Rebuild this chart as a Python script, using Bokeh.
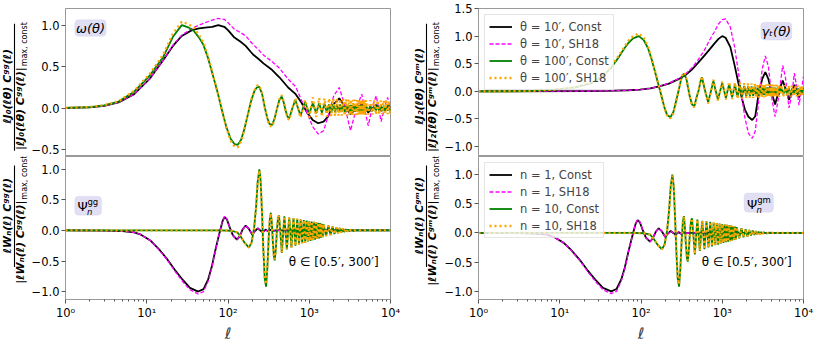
import math
from bokeh.plotting import figure
from bokeh.models import Range1d, FixedTicker, Legend, LegendItem, Label, BoxAnnotation
from bokeh.layouts import row, column
from bokeh.embed import file_html
from bokeh.resources import INLINE
from bokeh.core.properties import value

# ---------------- data ----------------
# omega(theta), theta = 10'
ell_w10 = [1, 2, 3, 4.5, 7, 11, 16, 21, 27, 36, 44, 52, 64, 76, 90, 100, 120, 143, 165, 190,
           207, 240, 273, 350, 432, 550, 681, 800, 937, 1100, 1290, 1500, 1700, 2000, 2340,
           2700, 3220, 3800, 4430, 4900, 5320, 6000, 6680, 7200, 7670, 8400, 9200, 10000]
w10_const = [0.005, 0.012, 0.03, 0.07, 0.17, 0.36, 0.58, 0.75, 0.87, 0.94, 0.96, 0.97, 0.98, 1.0, 0.98,
             0.94, 0.85, 0.80, 0.75, 0.68, 0.64, 0.59, 0.54, 0.46, 0.37, 0.25, 0.17, 0.07, -0.05, -0.14,
             -0.18, -0.16, -0.10, 0.05, 0.12, 0.03, -0.07, 0.0, 0.05, 0.0, -0.05, 0.0, 0.04, 0.0, -0.03,
             0.0, 0.03, 0.01]
w10_sh18 = [0.005, 0.012, 0.03, 0.07, 0.17, 0.36, 0.58, 0.76, 0.88, 0.96, 1.0, 1.03, 1.06, 1.08, 1.07,
            1.03, 0.95, 0.91, 0.87, 0.80, 0.76, 0.70, 0.64, 0.56, 0.48, 0.35, 0.26, 0.10, -0.05, -0.22,
            -0.31, -0.27, -0.10, 0.15, 0.25, 0.05, -0.27, 0.0, 0.17, -0.05, -0.21, 0.02, 0.15, -0.02, -0.16,
            0.0, 0.13, 0.0]

# shared positions of the dense oscillation band (theta = 100')
band_ell = [1000, 1108, 1216, 1324, 1432, 1540, 1648, 1756, 1864, 1972, 2080, 2188, 2296, 2404, 2512,
            2620, 2728, 2836, 2944, 3052, 3160, 3268, 3376, 3484, 3592, 3700, 3808, 3916, 4024, 4132,
            4240, 4348, 4456, 4564, 4672, 4780, 4888, 4996, 5320, 5644, 5968, 6292, 6616, 6940, 7264,
            7588, 7912, 8236, 8560, 8884, 9208, 9532, 9856, 10000]

# omega(theta), theta = 100'
ell_w100_head = [1, 2, 3, 4.5, 7, 11, 16, 21, 27, 33, 38, 44, 50, 57, 65, 75, 83, 95, 108, 120,
                 132, 145, 160, 175, 190, 210, 226, 241, 262, 285, 305, 325, 350, 375, 400, 428, 458,
                 485, 512, 540, 566, 620, 674, 728, 782, 836, 890, 945]
w100_const_head = [0.005, 0.015, 0.035, 0.08, 0.20, 0.40, 0.62, 0.86, 1.0, 0.97, 0.93, 0.85, 0.76, 0.60,
                   0.40, 0.18, 0.0, -0.22, -0.37, -0.43, -0.44, -0.38, -0.24, -0.08, 0.07, 0.20, 0.25,
                   0.26, 0.18, 0.0, -0.12, -0.19, -0.20, -0.12, -0.01, 0.10, 0.14, 0.07, -0.03, -0.10,
                   -0.12, 0.0, 0.10, 0.0, -0.09, 0.0, 0.08, 0.0]
w100_sh18_head = [0.005, 0.016, 0.037, 0.085, 0.21, 0.42, 0.65, 0.90, 1.04, 1.01, 0.97, 0.88, 0.79, 0.62,
                  0.41, 0.18, 0.0, -0.23, -0.39, -0.46, -0.47, -0.40, -0.25, -0.08, 0.08, 0.21, 0.27,
                  0.28, 0.19, 0.0, -0.13, -0.21, -0.22, -0.13, -0.01, 0.11, 0.16, 0.08, -0.03, -0.12,
                  -0.14, 0.0, 0.12, 0.0, -0.11, 0.0, 0.10, 0.0]
w100_const_band = [-0.07, 0.065, -0.06, 0.06, -0.055, 0.055, -0.05, 0.05, -0.05, 0.048,
                   -0.047, 0.046, -0.045, 0.045, -0.044, 0.044, -0.043, 0.043, -0.042, 0.042,
                   -0.041, 0.041, -0.04, 0.04, -0.04, 0.04, -0.039, 0.039, -0.039, 0.038,
                   -0.038, 0.038, -0.037, 0.037, -0.037, 0.036, -0.036, 0.036, -0.035, 0.035,
                   -0.035, 0.034, -0.034, 0.034, -0.033, 0.033, -0.033, 0.032, -0.032, 0.032,
                   -0.031, 0.031, -0.03, 0.0]
w100_sh18_band = [-0.11, 0.13, -0.105, 0.125, -0.10, 0.12, -0.10, 0.12, -0.095, 0.115,
                  -0.095, 0.115, -0.09, 0.11, -0.09, 0.11, -0.088, 0.108, -0.086, 0.106,
                  -0.085, 0.105, -0.084, 0.104, -0.083, 0.103, -0.082, 0.102, -0.081, 0.101,
                  -0.08, 0.10, -0.08, 0.10, -0.079, 0.099, -0.078, 0.098, -0.077, 0.097,
                  -0.076, 0.096, -0.075, 0.095, -0.074, 0.094, -0.073, 0.093, -0.072, 0.092,
                  -0.071, 0.091, -0.07, 0.0]

# gamma_t(theta), theta = 10'
ell_g10 = [1, 20, 38.7, 70, 97, 130, 168, 220, 290, 350, 420, 500, 606, 700, 794, 900, 1000, 1100,
           1259, 1420, 1580, 1740, 1900, 2100, 2340, 2550, 2820, 3100, 3390, 3700, 4100, 4470, 4950,
           5550, 6000, 6630, 7200, 7710, 8300, 8790, 9400, 10000]
g10_const = [0.0, 0.005, 0.01, 0.02, 0.03, 0.055, 0.09, 0.14, 0.22, 0.29, 0.39, 0.51, 0.65, 0.76, 0.86,
             0.95, 1.0, 0.97, 0.80, 0.47, 0.15, -0.12, -0.33, -0.46, -0.52, -0.45, -0.02, 0.22, 0.35,
             0.22, -0.05, -0.24, 0.0, 0.195, 0.05, -0.15, 0.0, 0.12, 0.0, -0.11, 0.0, 0.07]
g10_sh18 = [0.0, 0.005, 0.01, 0.02, 0.03, 0.055, 0.09, 0.145, 0.23, 0.31, 0.42, 0.56, 0.75, 0.93, 1.07,
            1.22, 1.30, 1.31, 1.16, 0.80, 0.35, -0.10, -0.48, -0.76, -0.85, -0.72, -0.15, 0.40, 0.64,
            0.45, -0.15, -0.46, -0.10, 0.47, 0.25, -0.30, -0.05, 0.33, 0.05, -0.25, 0.0, 0.27]

# gamma_t(theta), theta = 100'
ell_g100_head = [1, 4, 8.5, 15.5, 24.6, 33.8, 43, 53.4, 62, 70.3, 80, 94, 108, 122, 135, 146, 160, 176,
                 195, 210, 230, 250, 270, 289, 310, 330, 343, 365, 385, 399, 425, 454, 480, 509, 540,
                 563, 617, 671, 725, 778, 832, 886, 940]
g100_const_head = [0.0, 0.003, 0.03, 0.07, 0.15, 0.27, 0.43, 0.62, 0.77, 0.88, 0.96, 1.0, 0.93, 0.78,
                   0.58, 0.40, 0.18, -0.05, -0.30, -0.43, -0.47, -0.38, -0.18, 0.0, 0.2, 0.31, 0.32,
                   0.2, 0.02, -0.1, -0.24, -0.27, -0.12, 0.0, 0.18, 0.25, 0.0, -0.2, 0.0, 0.19, 0.0,
                   -0.15, 0.0]
g100_sh18_head = [0.0, 0.003, 0.03, 0.075, 0.16, 0.28, 0.45, 0.65, 0.80, 0.92, 1.0, 1.05, 0.97, 0.81,
                  0.60, 0.42, 0.19, -0.05, -0.31, -0.45, -0.49, -0.40, -0.19, 0.0, 0.21, 0.33, 0.34,
                  0.21, 0.02, -0.11, -0.26, -0.29, -0.13, 0.0, 0.2, 0.27, 0.0, -0.22, 0.0, 0.21, 0.0,
                  -0.17, 0.0]
g100_const_band = [0.15, -0.12, 0.13, -0.11, 0.12, -0.10, 0.11, -0.095, 0.10, -0.09,
                   0.095, -0.085, 0.09, -0.08, 0.085, -0.078, 0.082, -0.075, 0.08, -0.072,
                   0.078, -0.07, 0.076, -0.068, 0.074, -0.066, 0.072, -0.064, 0.07, -0.062,
                   0.068, -0.06, 0.066, -0.058, 0.064, -0.056, 0.062, -0.055, 0.06, -0.054,
                   0.058, -0.053, 0.057, -0.052, 0.056, -0.051, 0.055, -0.05, 0.054, -0.05,
                   0.053, -0.049, 0.052, 0.0]
g100_sh18_band = [0.18, -0.15, 0.17, -0.14, 0.16, -0.135, 0.155, -0.13, 0.15, -0.125,
                  0.145, -0.12, 0.14, -0.118, 0.138, -0.116, 0.136, -0.114, 0.134, -0.112,
                  0.132, -0.11, 0.13, -0.108, 0.128, -0.106, 0.126, -0.104, 0.124, -0.102,
                  0.122, -0.10, 0.12, -0.099, 0.118, -0.098, 0.116, -0.097, 0.114, -0.096,
                  0.112, -0.095, 0.11, -0.094, 0.108, -0.093, 0.106, -0.092, 0.104, -0.091,
                  0.102, -0.09, 0.10, 0.0]

# Psi_n filters, n = 1
ell_n1 = [1, 3, 5, 7, 8.5, 11.2, 14, 17.6, 22, 27.8, 34, 43, 50, 57, 63, 70, 76, 80, 86, 91,
          97, 105, 115, 129, 140, 152, 165, 180, 199, 215, 232, 250, 268, 290, 310, 335, 360, 400, 10000]
n1_const = [0.0, -0.002, -0.01, -0.03, -0.07, -0.17, -0.30, -0.46, -0.64, -0.81, -0.94, -1.0, -0.96,
            -0.80, -0.60, -0.32, -0.12, 0.0, 0.16, 0.22, 0.18, 0.05, -0.08, -0.15, -0.09, 0.02, 0.08,
            0.03, -0.07, -0.01, 0.035, 0.0, -0.03, 0.015, -0.015, 0.01, -0.005, 0.0, 0.0]
n1_sh18 = [0.0, -0.002, -0.01, -0.03, -0.07, -0.17, -0.31, -0.47, -0.66, -0.84, -0.97, -1.04, -1.0,
           -0.83, -0.62, -0.33, -0.12, 0.0, 0.17, 0.23, 0.19, 0.05, -0.08, -0.15, -0.09, 0.02, 0.08,
           0.03, -0.07, -0.01, 0.035, 0.0, -0.03, 0.015, -0.015, 0.01, -0.005, 0.0, 0.0]

# Psi_n filters, n = 10
ell_n10 = [1, 80, 110, 130, 143, 160, 181, 195, 210, 222,
           232, 243, 252, 262, 272, 283, 294, 305, 316, 327,
           337, 347, 357, 367, 376, 388, 400, 412, 424, 442,
           460, 477, 494, 512, 530, 548, 567, 585, 603, 621,
           640, 658, 676, 694, 712, 730, 748, 766, 784, 802,
           820, 838, 856, 874, 892, 910, 928, 946, 964, 982,
           1000, 1036, 1072, 1108, 1144, 1180, 1216, 1252, 1288, 1324,
           1360, 1396, 1432, 1468, 1504, 1612, 1720, 1828, 1936, 2044,
           2152, 2260, 2368, 2476, 2584, 2692, 2800, 2908, 3016, 3124,
           3232, 3500, 3800, 4200, 10000]
n10_const = [0.0, 0.0, -0.005, -0.03, -0.10, -0.20, -0.28, -0.20, 0.05, 0.40,
             0.80, 1.0, 0.82, 0.30, -0.30, -0.78, -0.92, -0.62, -0.15, 0.18,
             0.29, 0.10, -0.20, -0.42, -0.49, -0.30, 0.0, 0.20, 0.25, -0.05,
             -0.37, -0.05, 0.23, -0.04, -0.31, -0.04, 0.21, -0.03, -0.28, -0.03,
             0.20, -0.03, -0.25, -0.02, 0.19, -0.02, -0.23, -0.02, 0.18, -0.02,
             -0.21, -0.01, 0.17, -0.01, -0.20, -0.01, 0.16, -0.01, -0.18, -0.01,
             0.15, -0.17, 0.145, -0.16, 0.14, -0.15, 0.13, -0.14, 0.125, -0.13,
             0.12, -0.12, 0.11, -0.11, 0.10, -0.09, 0.08, -0.075, 0.065, -0.06,
             0.05, -0.045, 0.04, -0.035, 0.03, -0.025, 0.02, -0.018, 0.015, -0.012,
             0.01, -0.006, 0.004, 0.0, 0.0]
n10_sh18 = [0.0, 0.0, -0.005, -0.03, -0.10, -0.20, -0.28, -0.20, 0.05, 0.39,
            0.79, 0.98, 0.80, 0.29, -0.29, -0.76, -0.88, -0.60, -0.14, 0.18,
            0.28, 0.10, -0.19, -0.41, -0.47, -0.30, 0.0, 0.20, 0.25, -0.05,
            -0.36, -0.05, 0.23, -0.04, -0.30, -0.04, 0.21, -0.03, -0.28, -0.03,
            0.20, -0.03, -0.25, -0.02, 0.19, -0.02, -0.23, -0.02, 0.18, -0.02,
            -0.21, -0.01, 0.17, -0.01, -0.20, -0.01, 0.16, -0.01, -0.18, -0.01,
            0.15, -0.17, 0.145, -0.16, 0.14, -0.15, 0.13, -0.14, 0.125, -0.13,
            0.12, -0.12, 0.11, -0.11, 0.10, -0.09, 0.08, -0.075, 0.065, -0.06,
            0.05, -0.045, 0.04, -0.035, 0.03, -0.025, 0.02, -0.018, 0.015, -0.012,
            0.01, -0.006, 0.004, 0.0, 0.0]

x_tick_vals = [1, 10, 100, 1000, 10000]
x_tick_text = ["10⁰", "10¹", "10²", "10³", "10⁴"]
legend_top = ["θ = 10′, Const", "θ = 10′, SH18", "θ = 100′, Const", "θ = 100′, SH18"]
legend_bottom = ["n = 1, Const", "n = 1, SH18", "n = 10, Const", "n = 10, SH18"]

# ---------------- styling ----------------
FONT = "DejaVu Sans"
FW, FH = 329, 148
TOPB, BOTB = 8, 41
LB, RB = 33, 11
GRAY = "#9a9a9a"
C_BLACK, C_MAG, C_GREEN, C_ORANGE = "#000000", "#ff00ff", "#008000", "#ffa500"
BOX_FILL, BOX_LINE = "#e1dff4", "#cfcce8"


def panel(ylim, yticks, bottom):
    p = figure(width=LB + FW + RB, height=FH + (BOTB if bottom else TOPB),
               x_axis_type="log", x_range=Range1d(1, 1e4), y_range=Range1d(*ylim),
               x_axis_location="below" if bottom else None,
               output_backend="svg", toolbar_location=None,
               min_border_left=LB, min_border_right=RB,
               min_border_top=0 if bottom else TOPB,
               min_border_bottom=BOTB if bottom else 0)
    p.grid.visible = False
    p.outline_line_color = GRAY
    p.outline_line_width = 1
    ya = p.yaxis[0]
    ya.ticker = FixedTicker(ticks=yticks)
    ya.major_label_overrides = {t: f"{t:.1f}".replace("-", "−") for t in yticks}
    ya.axis_line_color = GRAY
    ya.major_tick_line_color = "#555555"
    ya.major_tick_out = 4
    ya.major_tick_in = 0
    ya.minor_tick_line_color = None
    ya.major_label_text_font = FONT
    ya.major_label_text_font_size = "11.5px"
    ya.major_label_text_color = "#000000"
    ya.major_label_standoff = 2
    if bottom:
        xa = p.xaxis[0]
        xa.ticker = FixedTicker(ticks=x_tick_vals,
                                minor_ticks=[m * 10 ** k for k in range(4) for m in range(2, 10)])
        xa.major_label_overrides = dict(zip(x_tick_vals, x_tick_text))
        xa.axis_line_color = GRAY
        xa.major_tick_line_color = "#555555"
        xa.minor_tick_line_color = "#555555"
        xa.major_tick_out = 4
        xa.major_tick_in = 0
        xa.minor_tick_out = 2
        xa.minor_tick_in = 0
        xa.major_label_text_font = FONT
        xa.major_label_text_font_size = "11.5px"
        xa.major_label_text_color = "#000000"
        xa.major_label_standoff = 2
        xa.axis_label = "ℓ"
        xa.axis_label_text_font = FONT
        xa.axis_label_text_font_size = "16px"
        xa.axis_label_text_font_style = "italic"
        xa.axis_label_standoff = 1
    return p


def draw(p, series):
    rs = []
    styles = [dict(line_color=C_BLACK, line_width=1.8),
              dict(line_color=C_MAG, line_width=1.3, line_dash="4 2"),
              dict(line_color=C_GREEN, line_width=1.8),
              dict(line_color=C_ORANGE, line_width=2.3, line_dash="2 3")]
    for (xs, ys), st in zip(series, styles):
        rs.append(p.line(xs, ys, **st))
    return rs


def add_legend(p, rs, labels):
    leg = Legend(items=[LegendItem(label=l, renderers=[r]) for l, r in zip(labels, rs)],
                 location="top_left")
    leg.label_text_font = FONT
    leg.label_text_font_size = "11.5px"
    leg.glyph_width = 23
    leg.glyph_height = 15
    leg.label_height = 15
    leg.spacing = 2
    leg.padding = 4
    leg.margin = 6
    leg.label_standoff = 8
    leg.border_line_color = "#cccccc"
    leg.background_fill_alpha = 0.8
    p.add_layout(leg)


def ylabel_fig(width, height, cy, xs, num, den, sub):
    q = figure(width=width, height=height, x_range=Range1d(0, width), y_range=Range1d(0, height),
               x_axis_location=None, y_axis_location=None, min_border=0,
               output_backend="svg", toolbar_location=None)
    q.grid.visible = False
    q.outline_line_color = None
    xn, xb, xd, xsub = xs
    ang = math.pi / 2
    common = dict(angle=ang, text_font=value(FONT), text_color="black", text_baseline="middle")
    q.text(x=[xn], y=[cy], text=[num], text_font_size="11px", text_font_style="bold italic",
           text_align="center", **common)
    j = cy + 20
    q.text(x=[xd], y=[j], text=[den], text_font_size="11px", text_font_style="bold italic",
           text_align="right", **common)
    q.text(x=[xsub], y=[j + 1], text=[sub], text_font_size="8px", text_font_style="normal",
           text_align="left", **common)
    q.segment(x0=[xb], y0=[cy - 68], x1=[xb], y1=[cy + 66], line_color="black", line_width=1.1)
    return q


def box(p, l, r, b, t):
    p.add_layout(BoxAnnotation(left=l, right=r, bottom=b, top=t, fill_color=BOX_FILL, fill_alpha=1.0,
                               line_color=BOX_LINE, line_width=1, border_radius=4))


def lab(p, x, y, text, size, style="normal", align="center"):
    p.add_layout(Label(x=x, y=y, text=text, text_font=FONT, text_font_size=size,
                       text_font_style=style, text_align=align, text_baseline="middle",
                       text_color="black"))


# ---------------- panels ----------------
p_tl = panel((-0.58, 1.2), [-0.5, 0.0, 0.5, 1.0], False)
draw(p_tl, [(ell_w10, w10_const), (ell_w10, w10_sh18),
            (ell_w100_head + band_ell, w100_const_head + w100_const_band),
            (ell_w100_head + band_ell, w100_sh18_head + w100_sh18_band)])
box(p_tl, 1.30, 3.16, 0.866, 1.065)
lab(p_tl, 2.03, 0.965, "ω(θ)", "13px", "italic")

p_tr = panel((-1.18, 1.5), [-1.0, -0.5, 0.0, 0.5, 1.0, 1.5], False)
r_tr = draw(p_tr, [(ell_g10, g10_const), (ell_g10, g10_sh18),
                   (ell_g100_head + band_ell, g100_const_head + g100_const_band),
                   (ell_g100_head + band_ell, g100_sh18_head + g100_sh18_band)])
add_legend(p_tr, r_tr, legend_top)
box(p_tr, 2985, 7190, 0.93, 1.25)
lab(p_tr, 4634, 1.09, "γₜ(θ)", "13px", "italic")

p_bl = panel((-1.13, 1.21), [-1.0, -0.5, 0.0, 0.5, 1.0], True)
draw(p_bl, [(ell_n1, n1_const), (ell_n1, n1_sh18), (ell_n10, n10_const), (ell_n10, n10_sh18)])
box(p_bl, 1.30, 2.78, 0.25, 0.56)
lab(p_bl, 1.62, 0.40, "Ψ", "13px")
lab(p_bl, 1.86, 0.47, "gg", "8.5px", "normal", "left")
lab(p_bl, 1.84, 0.31, "n", "8.5px", "italic", "left")
lab(p_bl, 2000, -0.51, "θ ∈ [0.5′, 300′]", "12px")

p_br = panel((-1.14, 1.31), [-1.0, -0.5, 0.0, 0.5, 1.0], True)
r_br = draw(p_br, [(ell_n1, n1_const), (ell_n1, n1_sh18), (ell_n10, n10_const), (ell_n10, n10_sh18)])
add_legend(p_br, r_br, legend_bottom)
box(p_br, 1854, 4266, 0.355, 0.685)
lab(p_br, 2330, 0.48, "Ψ", "13px")
lab(p_br, 2690, 0.56, "gm", "8.5px", "normal", "left")
lab(p_br, 2640, 0.40, "n", "8.5px", "italic", "left")
lab(p_br, 2000, -0.505, "θ ∈ [0.5′, 300′]", "12px")

# ---------------- y labels (fractions) ----------------
H_TOP = FH + TOPB
H_BOT = FH + BOTB
l_tl = ylabel_fig(28, H_TOP, FH / 2, (7, 14, 20, 24), "ℓJ₀(ℓθ) Cᵍᵍ(ℓ)", "|ℓJ₀(ℓθ) Cᵍᵍ(ℓ)|", "max, const")
l_tr = ylabel_fig(40, H_TOP, FH / 2, (18, 25, 31, 35), "ℓJ₂(ℓθ) Cᵍᵐ(ℓ)", "|ℓJ₂(ℓθ) Cᵍᵐ(ℓ)|", "max, const")
l_bl = ylabel_fig(28, H_BOT, BOTB + FH / 2 - 4, (7, 14, 20, 24), "ℓWₙ(ℓ) Cᵍᵍ(ℓ)", "|ℓWₙ(ℓ) Cᵍᵍ(ℓ)|", "max, const")
l_br = ylabel_fig(40, H_BOT, BOTB + FH / 2 - 4, (18, 25, 31, 35), "ℓWₙ(ℓ) Cᵍᵐ(ℓ)", "|ℓWₙ(ℓ) Cᵍᵐ(ℓ)|", "max, const")

layout = column(row(l_tl, p_tl, l_tr, p_tr), row(l_bl, p_bl, l_br, p_br))

open("out.html", "w").write(file_html(layout, INLINE))
